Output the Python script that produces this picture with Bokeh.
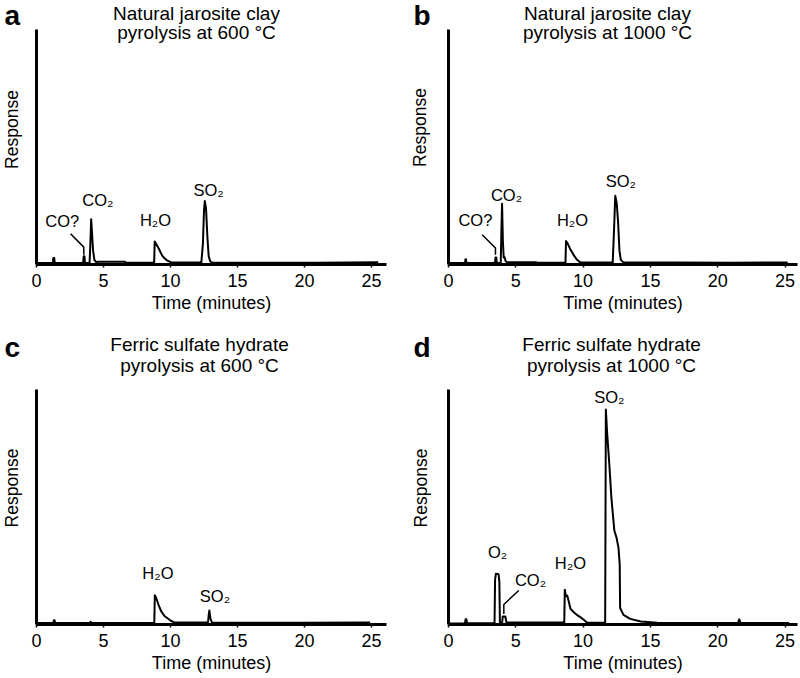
import math
from bokeh.plotting import figure
from bokeh.layouts import column, row
from bokeh.models import Label, FixedTicker, Range1d
from bokeh.core.properties import value
from bokeh.embed import file_html
from bokeh.resources import INLINE

FONT = "Liberation Sans"
S2 = "\u2082"

x_ticks = [0, 5, 10, 15, 20, 25]
x_label = "Time (minutes)"
y_label = "Response"

# ---------------- panel a ----------------
a_letter = "a"
a_title = ["Natural jarosite clay", "pyrolysis at 600 °C"]
a_time = [0.0, 1.22, 1.26, 1.32, 1.36, 3.48, 3.52, 3.58, 3.62, 3.96, 4.02, 4.08, 4.15, 4.22, 4.32, 4.45,
          4.60, 6.60, 6.70, 8.78, 8.82, 8.90, 9.13, 9.38, 9.56, 9.75, 10.10, 12.30, 12.42, 12.50, 12.56,
          12.65, 12.75, 12.85, 12.97, 13.15, 21.00, 25.50]
a_resp = [0.6, 0.6, 2.8, 2.8, 0.6, 0.6, 3.5, 3.5, 0.6, 0.6, 9.0, 19.3, 13.0, 6.0, 2.0, 1.0,
          1.2, 1.2, 0.7, 0.7, 9.8, 9.0, 6.7, 3.8, 2.6, 1.7, 0.8, 0.8, 9.0, 23.0, 27.0,
          24.0, 12.0, 3.5, 1.3, 0.7, 0.7, 1.0]
a_peak_text = ["CO?", "CO" + S2, "H" + S2 + "O", "SO" + S2]
a_peak_time = [1.92, 4.58, 8.88, 12.84]
a_peak_resp = [15.9, 25.1, 16.6, 29.4]
a_ptr_time = [2.54, 3.53, 3.53]
a_ptr_resp = [13.1, 7.4, 4.2]

# ---------------- panel b ----------------
b_letter = "b"
b_title = ["Natural jarosite clay", "pyrolysis at 1000 °C"]
b_time = [0.0, 1.22, 1.26, 1.30, 1.34, 3.46, 3.49, 3.55, 3.59, 3.88, 3.93, 3.98, 4.04, 4.10, 4.16, 4.24,
          4.32, 4.50, 6.50, 6.60, 8.69, 8.73, 8.85, 9.05, 9.30, 9.55, 9.80, 12.20, 12.30, 12.39, 12.50,
          12.60, 12.70, 12.80, 12.97, 21.00, 25.20]
b_resp = [0.6, 0.6, 2.2, 2.2, 0.6, 0.6, 3.0, 3.0, 0.6, 0.6, 14.0, 25.8, 10.0, 3.0, 3.2, 1.5,
          1.0, 1.0, 1.0, 0.7, 0.7, 10.0, 9.0, 6.5, 4.0, 2.0, 0.9, 0.8, 15.0, 29.3, 26.0,
          18.0, 6.0, 2.0, 1.0, 0.7, 0.9]
b_peak_text = ["CO?", "CO" + S2, "H" + S2 + "O", "SO" + S2]
b_peak_time = [2.0, 4.31, 9.21, 12.8]
b_peak_resp = [16.6, 27.2, 16.6, 33.2]
b_ptr_time = [2.5, 3.49, 3.49]
b_ptr_resp = [12.7, 7.0, 4.2]

# ---------------- panel c ----------------
c_letter = "c"
c_title = ["Ferric sulfate hydrate", "pyrolysis at 600 °C"]
c_time = [0.0, 1.26, 1.30, 1.35, 1.39, 4.00, 4.04, 4.08, 8.79, 8.83, 8.92, 9.10, 9.30, 9.55, 10.00, 10.30,
          12.80, 12.85, 12.90, 12.98, 13.10, 20.00, 24.90]
c_resp = [0.6, 0.6, 1.8, 1.8, 0.6, 0.6, 1.2, 0.6, 0.6, 12.4, 11.5, 8.5, 5.7, 3.6, 1.7, 0.8,
          0.8, 4.0, 6.0, 2.5, 0.8, 0.7, 0.8]
c_peak_text = ["H" + S2 + "O", "SO" + S2]
c_peak_time = [9.06, 13.32]
c_peak_resp = [19.4, 9.9]

# ---------------- panel d ----------------
d_letter = "d"
d_title = ["Ferric sulfate hydrate", "pyrolysis at 1000 °C"]
d_time = [0.0, 1.22, 1.27, 1.33, 1.38, 3.42, 3.46, 3.52, 3.72, 3.78, 3.82, 3.98, 4.03, 4.22, 4.31, 6.50,
          8.60, 8.64, 8.72, 8.82, 8.95, 9.06, 9.31, 9.55, 9.80, 10.05, 10.30,
          11.64, 11.69, 11.78, 11.95, 12.10, 12.32, 12.48, 12.63, 12.72, 12.75, 13.00, 13.50, 14.30,
          15.50, 17.00, 21.50, 21.60, 21.70, 25.30]
d_resp = [0.4, 0.4, 2.2, 2.2, 0.5, 0.5, 19.0, 21.6, 21.4, 18.0, 0.6, 0.6, 3.4, 3.4, 0.8, 0.8,
          0.8, 14.8, 12.0, 12.3, 9.5, 6.7, 5.2, 4.0, 3.1, 2.0, 0.7,
          0.8, 91.5, 82.0, 68.0, 54.0, 40.0, 37.0, 32.6, 25.6, 7.0, 4.1, 2.4, 1.3,
          0.7, 0.6, 0.6, 2.2, 0.6, 0.6]
d_peak_text = ["O" + S2, "CO" + S2, "H" + S2 + "O", "SO" + S2]
d_peak_time = [3.65, 6.09, 9.06, 11.95]
d_peak_resp = [28.6, 16.6, 23.7, 94.2]
d_ptr_time = [5.22, 4.11, 4.11]
d_ptr_resp = [14.5, 8.5, 4.5]

PX_PER_UNIT = 2.35   # vertical pixels per response unit (0..100 spans the drawn y axis)
MID = 0.3465         # distance (in em) from alphabetic baseline up to the em-box middle

PEAK_FS = 16.5
TITLE_FS = 19
LETTER_FS = 28
YLAB_FS = 17.5


def make_panel(fig_box, axis_px, ppm, x_bound, letter, title, time, resp,
               ptext, ptime, presp, ptr_t=None, ptr_r=None,
               letter_pos=None, title_pos=None, ylab_pos=None):
    ox, oy, W, H = fig_box
    ax_x, ax_y = axis_px  # page pixel of the y axis line (x) and x axis line (y)
    X = lambda px: (px - ax_x) / ppm
    Y = lambda py: (ax_y - py) / PX_PER_UNIT

    p = figure(width=W, height=H,
               x_range=Range1d(X(ox), X(ox + W)), y_range=Range1d(Y(oy + H), Y(oy)),
               output_backend="svg", toolbar_location=None,
               min_border_left=0, min_border_right=0, min_border_top=0, min_border_bottom=0)
    p.outline_line_color = None
    p.xgrid.visible = False
    p.ygrid.visible = False

    xa = p.xaxis[0]
    xa.fixed_location = 0
    xa.bounds = (0, x_bound)
    xa.ticker = FixedTicker(ticks=x_ticks)
    xa.axis_line_width = 3
    xa.axis_line_color = "black"
    xa.major_tick_out = 3
    xa.major_tick_in = 0
    xa.major_tick_line_width = 1.5
    xa.minor_tick_out = 0
    xa.minor_tick_in = 0
    xa.major_label_text_font = FONT
    xa.major_label_text_font_size = "18px"
    xa.major_label_text_color = "black"
    xa.major_label_standoff = 6
    xa.axis_label = x_label
    xa.axis_label_text_font = FONT
    xa.axis_label_text_font_size = "18px"
    xa.axis_label_text_font_style = "normal"
    xa.axis_label_text_color = "black"
    xa.axis_label_standoff = 3

    ya = p.yaxis[0]
    ya.fixed_location = 0
    ya.bounds = (0, 100)
    ya.ticker = FixedTicker(ticks=[])
    ya.axis_line_width = 3
    ya.axis_line_color = "black"
    ya.major_tick_out = 0
    ya.major_tick_in = 0
    ya.minor_tick_out = 0
    ya.minor_tick_in = 0
    ya.major_label_text_font_size = "0px"

    p.line(time, resp, line_color="black", line_width=2, line_join="round")

    if ptr_t is not None:
        p.line(ptr_t, ptr_r, line_color="black", line_width=1.5)

    # peak labels: values are baselines; anchor on the em-box middle
    shift = MID * PEAK_FS / PX_PER_UNIT
    p.text(x=ptime, y=[v + shift for v in presp], text=ptext, text_font=value(FONT),
           text_font_size=value(f"{PEAK_FS}px"), text_align="center", text_baseline="middle",
           text_color="black")

    lx, ly = letter_pos
    p.add_layout(Label(x=X(lx), y=Y(ly - MID * LETTER_FS), text=letter, text_font=FONT,
                       text_font_size=f"{LETTER_FS}px", text_font_style="bold",
                       text_align="left", text_baseline="middle", text_color="black"))
    tx, ty1, ty2 = title_pos
    for txt, ty in zip(title, [ty1, ty2]):
        p.add_layout(Label(x=X(tx), y=Y(ty - MID * TITLE_FS), text=txt, text_font=FONT,
                           text_font_size=f"{TITLE_FS}px", text_align="center",
                           text_baseline="middle", text_color="black"))
    yx, yy = ylab_pos
    p.add_layout(Label(x=X(yx - MID * YLAB_FS), y=Y(yy), text=y_label, text_font=FONT,
                       text_font_size=f"{YLAB_FS}px", angle=math.pi / 2, text_align="center",
                       text_baseline="middle", text_color="black"))
    return p


pa = make_panel((0, 0, 400, 331), (36, 264), 13.4, 26.1, a_letter, a_title, a_time, a_resp,
                a_peak_text, a_peak_time, a_peak_resp, a_ptr_time, a_ptr_resp,
                letter_pos=(4, 25), title_pos=(196, 19.5, 38.5), ylab_pos=(17.5, 129))
pb = make_panel((400, 0, 400, 331), (448, 264), 13.46, 25.9, b_letter, b_title, b_time, b_resp,
                b_peak_text, b_peak_time, b_peak_resp, b_ptr_time, b_ptr_resp,
                letter_pos=(413, 25), title_pos=(607, 19.5, 38.5), ylab_pos=(426, 127))
pc = make_panel((0, 331, 400, 347), (36, 624), 13.4, 26.1, c_letter, c_title, c_time, c_resp,
                c_peak_text, c_peak_time, c_peak_resp,
                letter_pos=(4, 357), title_pos=(199, 351, 372), ylab_pos=(17.5, 487.5))
pd_ = make_panel((400, 331, 400, 347), (448, 624), 13.46, 25.9, d_letter, d_title, d_time, d_resp,
                 d_peak_text, d_peak_time, d_peak_resp, d_ptr_time, d_ptr_resp,
                 letter_pos=(413, 357), title_pos=(611, 351, 372), ylab_pos=(426.5, 487.5))

layout = column(row(pa, pb), row(pc, pd_))

with open("out.html", "w") as f:
    f.write(file_html(layout, INLINE))
